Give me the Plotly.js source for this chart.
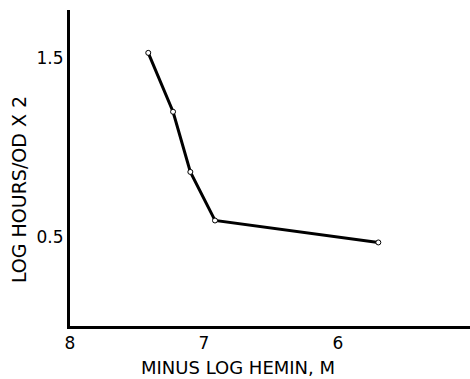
<!DOCTYPE html>
<html><head><meta charset="utf-8">
<script src="https://cdn.plot.ly/plotly-3.0.1.min.js"></script>
<style>html,body{margin:0;padding:0;background:#fff}#c{width:470px;height:379px}</style>
</head><body><div id="c"></div>
<script>
var minusLogHemin = [7.416, 7.231, 7.102, 6.918, 5.699];
var logHoursOD = [1.530, 1.200, 0.863, 0.591, 0.468];
var xTickVals = [8, 7, 6];
var xTickText = ['8', '7', '6'];
var yTickVals = [1.5, 0.5];
var yTickText = ['1.5', '0.5'];
var xTitle = 'MINUS LOG HEMIN, M';
var yTitle = 'LOG HOURS/OD X 2';

var trace = {
  x: minusLogHemin, y: logHoursOD, type: 'scatter', mode: 'lines+markers',
  line: {color: '#000', width: 3},
  marker: {symbol: 'circle', size: 5, color: '#fff', line: {color: '#000', width: 1}},
  hoverinfo: 'none'
};
var fontFam = 'DejaVu Sans, sans-serif';
var layout = {
  width: 470, height: 379,
  margin: {l: 70, r: 0, t: 10, b: 53},
  paper_bgcolor: '#fff', plot_bgcolor: '#fff',
  showlegend: false,
  xaxis: {
    range: [8, 5.015], showgrid: false, zeroline: false,
    showline: true, linecolor: '#000', linewidth: 3,
    tickmode: 'array', tickvals: xTickVals, ticktext: xTickText,
    ticks: '', ticklabelstandoff: 0,
    tickfont: {family: fontFam, size: 17, color: '#000'}
  },
  yaxis: {
    range: [0, 1.77], showgrid: false, zeroline: false,
    showline: true, linecolor: '#000', linewidth: 3,
    tickmode: 'array', tickvals: yTickVals, ticktext: yTickText,
    ticks: '', ticklabelstandoff: 0,
    tickfont: {family: fontFam, size: 17, color: '#000'}
  },
  annotations: [
    {text: xTitle, xref: 'paper', yref: 'paper', x: 0.42, y: -0.13,
     xanchor: 'center', yanchor: 'middle', showarrow: false,
     font: {family: fontFam, size: 18, color: '#000'}},
    {text: yTitle, xref: 'paper', yref: 'paper', x: -0.1275, y: 0.43, textangle: -90,
     xanchor: 'center', yanchor: 'middle', showarrow: false,
     font: {family: fontFam, size: 19, color: '#000'}}
  ]
};
Plotly.newPlot('c', [trace], layout, {displayModeBar: false, staticPlot: true});
</script></body></html>
